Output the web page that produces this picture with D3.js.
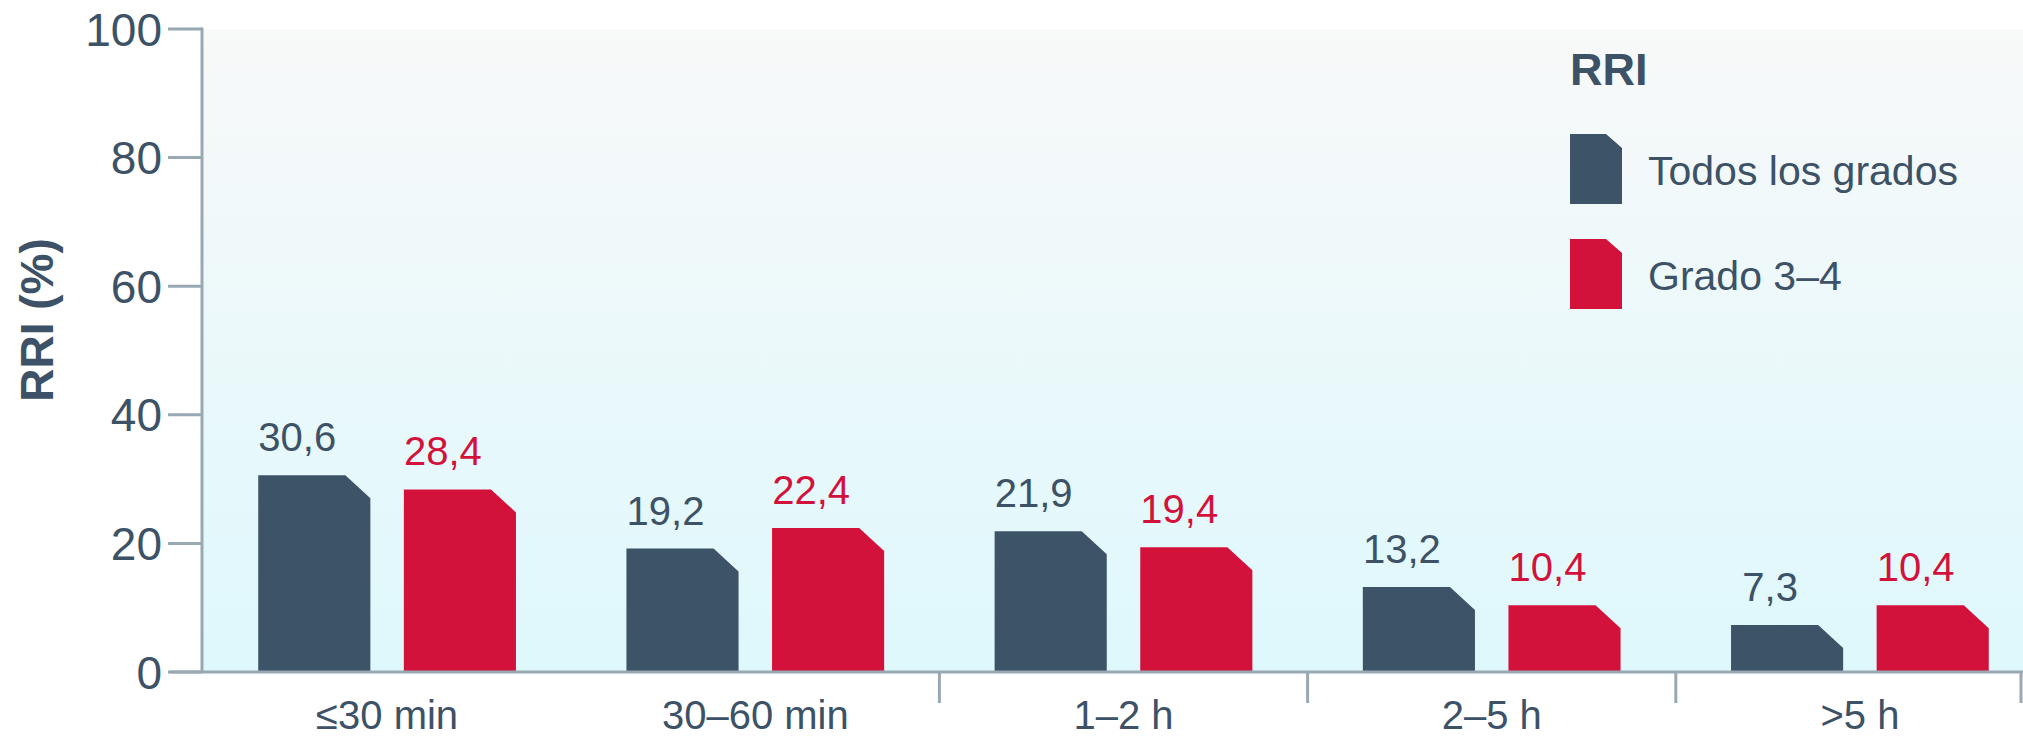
<!DOCTYPE html>
<html>
<head>
<meta charset="utf-8">
<script src="https://cdn.jsdelivr.net/npm/d3@7"></script>
<style>
  html, body { margin: 0; padding: 0; background: #ffffff; }
  svg { display: block; font-family: "Liberation Sans", Arial, sans-serif; }
</style>
</head>
<body>
<svg id="chart" width="2023" height="739"></svg>
<script>
// Infusion duration groups and reaction rates (%)
const categories = ["≤30 min", "30–60 min", "1–2 h", "2–5 h", ">5 h"];
const seriesNames = ["Todos los grados", "Grado 3–4"];
const allGrades = [30.6, 19.2, 21.9, 13.2, 7.3];
const grade34 = [28.4, 22.4, 19.4, 10.4, 10.4];
const yTicks = [0, 20, 40, 60, 80, 100];
const legendTitle = "RRI";
const yTitle = "RRI (%)";

const colors = { "Todos los grados": "#3d5367", "Grado 3–4": "#d3123b" };
const textColor = "#3d5266";
const axisColor = "#98a9b4";

const W = 2023, H = 739;
const svg = d3.select("#chart");

const plotLeft = 202, plotTop = 29, plotBottom = 672;

const y = d3.scaleLinear().domain([0, 100]).range([plotBottom, plotTop]);
const x0 = d3.scaleBand().domain(categories).range([203, 2044])
  .paddingInner(0.3).paddingOuter(0.15);
const x1 = d3.scaleBand().domain(seriesNames).range([0, x0.bandwidth()])
  .paddingInner(0.23);

const rows = categories.map((c, i) => ({
  cat: c,
  vals: [
    { s: seriesNames[0], v: allGrades[i] },
    { s: seriesNames[1], v: grade34[i] }
  ]
}));

// plot background gradient
const defs = svg.append("defs");
const grad = defs.append("linearGradient").attr("id", "bg")
  .attr("x1", 0).attr("y1", 0).attr("x2", 0).attr("y2", 1);
grad.append("stop").attr("offset", "0%").attr("stop-color", "#f8f9f9");
grad.append("stop").attr("offset", "100%").attr("stop-color", "#def8fc");

svg.append("rect")
  .attr("x", plotLeft).attr("y", plotTop)
  .attr("width", W - plotLeft).attr("height", plotBottom - plotTop)
  .attr("fill", "url(#bg)");

// bar outline with the top-right corner clipped off
function chamferBar(x, top, w, bottom, cw, ch) {
  const h = bottom - top;
  const c = Math.min(ch, h);
  const p = d3.path();
  p.moveTo(x, bottom);
  p.lineTo(x, top);
  p.lineTo(x + w - cw, top);
  p.lineTo(x + w, top + c);
  p.lineTo(x + w, bottom);
  p.closePath();
  return p.toString();
}

const groups = svg.append("g").selectAll("g").data(rows).join("g")
  .attr("transform", d => `translate(${x0(d.cat)},0)`);

groups.selectAll("path").data(d => d.vals).join("path")
  .attr("d", d => chamferBar(x1(d.s), y(d.v), x1.bandwidth(), y(0), 25, 23))
  .attr("fill", d => colors[d.s]);

groups.selectAll("text").data(d => d.vals).join("text")
  .attr("x", d => x1(d.s) + x1.bandwidth() / 2 - 17)
  .attr("y", d => y(d.v) - 24)
  .attr("text-anchor", "middle")
  .attr("font-size", 40)
  .attr("fill", d => d.s === seriesNames[0] ? textColor : colors[d.s])
  .text(d => d.v.toFixed(1).replace(".", ","));

// y axis
const yAxis = svg.append("g");
yAxis.append("line")
  .attr("x1", plotLeft).attr("x2", plotLeft)
  .attr("y1", y(100) - 1.5).attr("y2", y(0))
  .attr("stroke", axisColor).attr("stroke-width", 3);
yAxis.selectAll("line.tick").data(yTicks).join("line").attr("class", "tick")
  .attr("x1", 168).attr("x2", plotLeft)
  .attr("y1", d => y(d)).attr("y2", d => y(d))
  .attr("stroke", axisColor).attr("stroke-width", 3);
yAxis.selectAll("text").data(yTicks).join("text")
  .attr("x", 162).attr("y", d => y(d))
  .attr("dy", "0.36em")
  .attr("text-anchor", "end")
  .attr("font-size", 46)
  .attr("fill", textColor)
  .text(d => d);

svg.append("text")
  .attr("transform", "translate(53,320) rotate(-90)")
  .attr("text-anchor", "middle")
  .attr("font-size", 46)
  .attr("font-weight", "bold")
  .attr("fill", textColor)
  .text(yTitle);

// x axis with group separators
svg.append("line")
  .attr("x1", 170).attr("x2", W)
  .attr("y1", y(0)).attr("y2", y(0))
  .attr("stroke", axisColor).attr("stroke-width", 3);

const step = x0.step();
const sepX = categories.slice(1, 4).map(c => x0(c) + x0.bandwidth() + step * x0.paddingInner() / 2);
sepX.push(W - 2);
svg.selectAll("line.sep").data(sepX).join("line").attr("class", "sep")
  .attr("x1", d => d).attr("x2", d => d)
  .attr("y1", y(0)).attr("y2", y(0) + 31)
  .attr("stroke", axisColor).attr("stroke-width", 3);

svg.selectAll("text.cat").data(categories).join("text").attr("class", "cat")
  .attr("x", d => x0(d) + x0.bandwidth() / 2)
  .attr("y", 729)
  .attr("text-anchor", "middle")
  .attr("font-size", 40)
  .attr("fill", textColor)
  .text(d => d);

// legend
const lg = svg.append("g").attr("transform", "translate(1570,0)");
lg.append("text")
  .attr("x", 0).attr("y", 85)
  .attr("font-size", 45).attr("font-weight", "bold")
  .attr("fill", textColor)
  .text(legendTitle);
const items = lg.selectAll("g.item").data(seriesNames).join("g").attr("class", "item")
  .attr("transform", (d, i) => `translate(0,${134 + i * 105})`);
items.append("path")
  .attr("d", chamferBar(0, 0, 52, 70, 16, 14))
  .attr("fill", d => colors[d]);
items.append("text")
  .attr("x", 78).attr("y", 51)
  .attr("font-size", 41)
  .attr("fill", textColor)
  .text(d => d);
</script>
</body>
</html>
